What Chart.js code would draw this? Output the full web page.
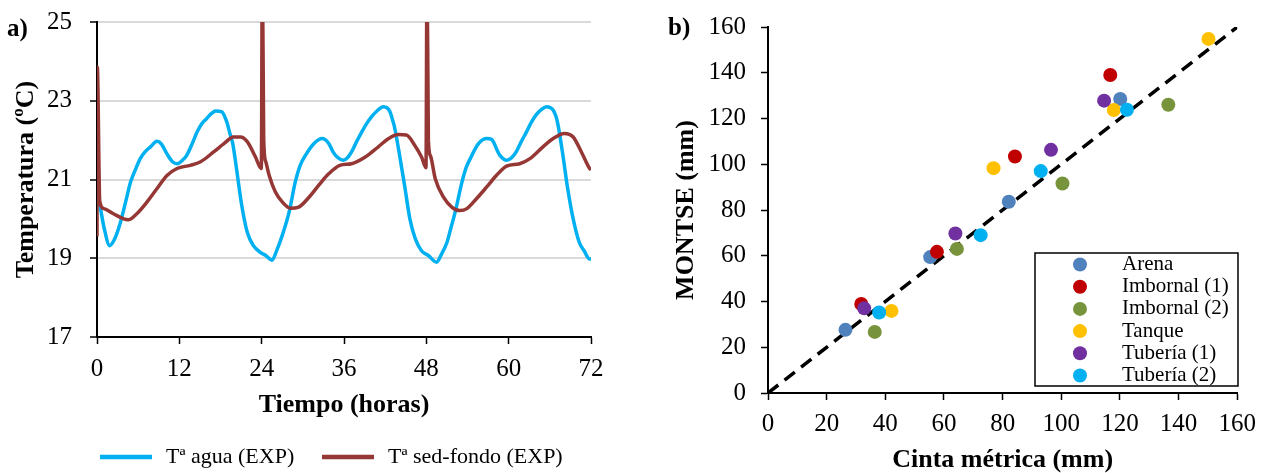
<!DOCTYPE html>
<html lang="es">
<head>
  <meta charset="UTF-8" />
  <title>Temperaturas y MONTSE vs cinta métrica</title>
  <script src="https://cdn.jsdelivr.net/npm/chart.js"></script>
  <style>
    body{margin:0;width:1265px;height:473px;position:relative;background:#fff;overflow:hidden;font-family:'Liberation Serif','Times New Roman',serif}
    .panel{position:absolute;top:0;height:473px}
    .letra{position:absolute;font-size:25px;font-weight:bold;line-height:25px;color:#000}
  </style>
</head>
<body>
  <div class="panel" style="left:0;width:632px"><canvas id="graficoA"></canvas></div>
  <div class="panel" style="left:632px;width:633px"><canvas id="graficoB"></canvas></div>
  <div class="letra" style="left:7px;top:15px">a)</div>
  <div class="letra" style="left:668px;top:14px">b)</div>

<script>
/* ---------- a) temperaturas ---------- */
const horasAgua = [0,0.4,1.0,1.85,2.6,3.4,4.2,4.9,5.6,6.3,7.0,7.8,8.75,9.4,10.2,11.0,11.7,12.4,13.1,13.9,14.6,15.3,16.0,16.7,17.3,18.2,18.9,19.4,19.8,20.4,21.1,21.9,22.8,23.8,24.6,25.5,26.2,27.0,28.0,28.9,29.6,30.4,31.6,32.8,33.8,34.4,35.0,35.9,36.5,37.1,37.8,38.6,39.3,40.0,40.8,41.7,42.3,42.7,43.1,43.4,44.1,44.9,45.6,46.4,47.3,48.3,49.5,50.2,51.0,51.6,52.2,53.2,53.8,54.4,55.6,56.8,57.5,57.8,58.3,58.7,59.7,60.4,61.1,61.8,62.6,63.3,64.0,64.8,65.5,66.1,66.5,66.9,67.2,67.9,68.6,69.4,70.3,71.0,71.8,72];
const tempAgua  = [20.55,20.35,19.8,19.32,19.5,19.9,20.45,20.94,21.25,21.53,21.7,21.83,21.97,21.9,21.65,21.45,21.4,21.48,21.62,21.92,22.21,22.42,22.55,22.68,22.74,22.72,22.47,22.15,21.9,21.19,20.34,19.66,19.32,19.15,19.07,18.95,19.2,19.58,20.17,20.94,21.35,21.62,21.91,22.04,21.91,21.7,21.57,21.49,21.55,21.7,21.95,22.21,22.42,22.59,22.74,22.85,22.82,22.72,22.5,22.3,21.62,20.77,20.0,19.49,19.19,19.07,18.9,19.1,19.4,19.78,20.17,20.94,21.3,21.53,21.91,22.04,22.02,21.95,21.75,21.62,21.49,21.55,21.7,21.95,22.21,22.45,22.64,22.78,22.85,22.82,22.76,22.6,22.38,21.62,20.77,20.0,19.4,19.19,18.98,18.98];

const horasSed = [0,0.05,0.4,1.0,2.4,3.9,4.6,5.8,7.3,8.75,10.2,11.66,13.6,15.1,17.0,18.5,19.9,20.9,21.9,23.1,23.95,24.1,24.3,24.6,25.1,26.0,27.0,28.2,29.4,30.9,32.3,33.8,35.4,37.1,39.1,41.0,42.5,43.9,45.1,46.3,47.3,47.95,48.1,48.3,48.6,49.3,50.5,51.7,52.9,53.9,55.3,56.8,58.2,59.7,61.6,63.1,65.0,66.5,68.1,69.4,70.6,71.8,72];
const tempSed  = [19.55,23.85,20.45,20.26,20.13,20.0,19.98,20.13,20.43,20.77,21.1,21.28,21.36,21.45,21.7,21.91,22.08,22.08,21.96,21.57,21.28,26.5,22.0,21.45,21.1,20.68,20.43,20.27,20.3,20.55,20.85,21.15,21.36,21.4,21.57,21.83,22.04,22.14,22.13,21.87,21.57,21.3,26.5,22.0,21.6,21.02,20.55,20.3,20.21,20.26,20.51,20.81,21.1,21.34,21.4,21.53,21.83,22.04,22.17,22.08,21.7,21.28,21.25];

const ticksHoras = [0,12,24,36,48,60,72];
const ticksTemp  = [17,19,21,23,25];

/* ---------- b) MONTSE vs cinta métrica ---------- */
const grupos  = ["Arena","Imbornal (1)","Imbornal (2)","Tanque","Tubería (1)","Tubería (2)"];
const colores = ["#4f81bd","#c00000","#77933c","#ffc000","#7030a0","#00b0f0"];

const cintaArena  = [26.4,55.3,82.1,120.1],  montseArena  = [27.6,59.4,83.6,128.5];
const cintaImb1   = [31.8,57.6,84.2,116.7],  montseImb1   = [38.9,61.7,103.4,139.0];
const cintaImb2   = [36.4,64.4,100.4,136.5], montseImb2   = [26.7,63.0,91.6,126.0];
const cintaTanque = [42.1,76.9,117.9,150.2], montseTanque = [35.9,98.3,123.7,154.8];
const cintaTub1   = [32.8,63.9,96.5,114.6],  montseTub1   = [37.0,69.7,106.3,127.8];
const cintaTub2   = [37.9,72.5,93.0,122.4],  montseTub2   = [35.2,69.0,97.0,123.8];

const cinta  = [cintaArena,cintaImb1,cintaImb2,cintaTanque,cintaTub1,cintaTub2];
const montse = [montseArena,montseImb1,montseImb2,montseTanque,montseTub1,montseTub2];

const linea11 = [0,160];
const ticksMm = [0,20,40,60,80,100,120,140,160];

/* ---------- comunes ---------- */
const FUENTE = "'Liberation Serif','Times New Roman',serif";
Chart.defaults.color = "#000";
Chart.defaults.font.family = FUENTE;
Chart.defaults.animation = false;

const pares = (xs, ys) => xs.map((x,i)=>({x:x, y:ys[i]}));
const fijarTicks = lista => s => { s.ticks = lista.map(v=>({value:v})); };
// ancho fijo del eje y, sin el relleno extra que pide la etiqueta superior
const anchoFijo = w => s => { s.width = w; s.paddingTop = 0; s.paddingBottom = 0; };

/* leyenda de a) debajo del gráfico */
const leyendaA = {
  id:"leyendaA",
  afterDraw(chart){
    const ctx = chart.ctx, pos = [[100,166],[322,388]], y = 457;
    ctx.save();
    ctx.font = "22px " + FUENTE;
    ctx.textBaseline = "middle";
    ctx.fillStyle = "#000";
    chart.data.datasets.forEach((ds,i)=>{
      ctx.strokeStyle = ds.borderColor; ctx.lineWidth = 4.5;
      ctx.beginPath(); ctx.moveTo(pos[i][0], y); ctx.lineTo(pos[i][0]+52, y); ctx.stroke();
      ctx.fillText(ds.label, pos[i][1], y);
    });
    ctx.restore();
  }
};

/* leyenda de b) dentro del área */
const leyendaB = {
  id:"leyendaB",
  afterDraw(chart){
    const ctx = chart.ctx;
    ctx.save();
    ctx.fillStyle = "#fff";
    ctx.fillRect(403,253,203,133);
    ctx.strokeStyle = "#000"; ctx.lineWidth = 1.5;
    ctx.strokeRect(403,253,203,133);
    ctx.font = "21px " + FUENTE;
    ctx.textBaseline = "middle";
    grupos.forEach((g,i)=>{
      const y = 264.5 + i*22.2;
      ctx.fillStyle = colores[i];
      ctx.beginPath(); ctx.arc(448, y, 7, 0, Math.PI*2); ctx.fill();
      ctx.fillStyle = "#000";
      ctx.fillText(g, 490, y);
    });
    ctx.restore();
  }
};

/* ---------- gráfico a) ---------- */
new Chart(document.getElementById("graficoA"), {
  type:"line",
  data:{
    datasets:[
      {label:"Tª agua (EXP)", data:pares(horasAgua,tempAgua), borderColor:"#00b0f0", borderWidth:3.5, pointRadius:0, cubicInterpolationMode:"monotone", order:2},
      {label:"Tª sed-fondo (EXP)", data:pares(horasSed,tempSed), borderColor:"#953735", borderWidth:3.5, pointRadius:0, cubicInterpolationMode:"monotone", order:1}
    ]
  },
  options:{
    responsive:true, maintainAspectRatio:false,
    layout:{padding:{left:0,top:22,right:41,bottom:0}},
    plugins:{legend:{display:false}, tooltip:{enabled:false}},
    scales:{
      x:{
        type:"linear", min:0, max:72,
        afterBuildTicks:fijarTicks(ticksHoras),
        afterFit:s=>{ s.height = 136; },
        grid:{drawOnChartArea:false, tickColor:"#000", tickLength:7, tickWidth:1.5},
        border:{color:"#000", width:2},
        ticks:{font:{size:25}, padding:10, maxRotation:0},
        title:{display:true, text:"Tiempo (horas)", font:{size:26, weight:"bold", lineHeight:1}, padding:{top:0,bottom:55}}
      },
      y:{
        min:17, max:25,
        afterBuildTicks:fijarTicks(ticksTemp),
        afterFit:anchoFijo(97),
        grid:{color:c=>c.tick && c.tick.value===17 ? "#000" : "#d9d9d9", lineWidth:2, tickColor:"#000", tickLength:7, tickWidth:1.5},
        border:{color:"#000", width:2},
        ticks:{font:{size:25}, padding:18},
        title:{display:true, text:"Temperatura (ºC)", font:{size:26, weight:"bold", lineHeight:1}, padding:{top:13,bottom:0}}
      }
    }
  },
  plugins:[leyendaA]
});

/* ---------- gráfico b) ---------- */
const dsGrupos = grupos.map((g,i)=>({
  type:"scatter", label:g, data:pares(cinta[i],montse[i]),
  backgroundColor:colores[i], borderColor:colores[i], borderWidth:0,
  pointRadius:7, pointHoverRadius:7, order:6-i
}));

new Chart(document.getElementById("graficoB"), {
  type:"scatter",
  data:{
    datasets:[
      {type:"line", label:"1:1", data:pares(linea11,linea11), borderColor:"#000", borderWidth:3.5, borderDash:[13,8], pointRadius:0, order:10},
      ...dsGrupos
    ]
  },
  options:{
    responsive:true, maintainAspectRatio:false,
    layout:{padding:{left:0,top:27,right:23,bottom:0}},
    plugins:{legend:{display:false}, tooltip:{enabled:false}},
    scales:{
      x:{
        type:"linear", min:0, max:160,
        afterBuildTicks:fijarTicks(ticksMm),
        afterFit:s=>{ s.height = 80; },
        grid:{drawOnChartArea:false, tickColor:"#000", tickLength:7, tickWidth:1.5},
        border:{color:"#000", width:2},
        ticks:{font:{size:25}, padding:9, maxRotation:0},
        title:{display:true, text:"Cinta métrica (mm)", font:{size:26, weight:"bold", lineHeight:1}, padding:{top:0,bottom:0}}
      },
      y:{
        type:"linear", min:0, max:160,
        afterBuildTicks:fijarTicks(ticksMm),
        afterFit:anchoFijo(136),
        grid:{drawOnChartArea:false, tickColor:"#000", tickLength:7, tickWidth:1.5},
        border:{color:"#000", width:2},
        ticks:{font:{size:25}, padding:15},
        title:{display:true, text:"MONTSE (mm)", font:{size:26, weight:"bold", lineHeight:1}, padding:{top:41,bottom:0}}
      }
    }
  },
  plugins:[leyendaB]
});
</script>
</body>
</html>
